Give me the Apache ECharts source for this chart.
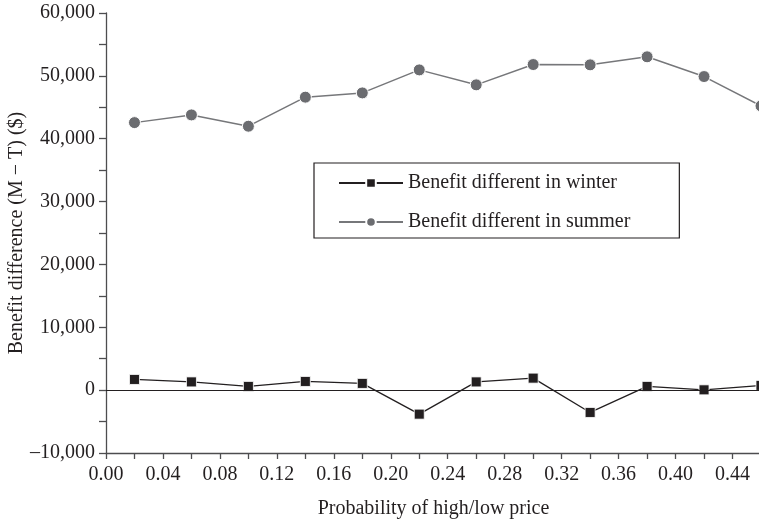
<!DOCTYPE html>
<html>
<head>
<meta charset="utf-8">
<script src="https://cdn.jsdelivr.net/npm/echarts@6/dist/echarts.min.js"></script>
<style>html,body{margin:0;padding:0;background:#fff}#c{width:759px;height:523px}</style>
</head>
<body>
<div id="c"></div>
<script>
var probabilities = [0.02, 0.06, 0.10, 0.14, 0.18, 0.22, 0.26, 0.30, 0.34, 0.38, 0.42, 0.46];
var winterValues = [1700, 1310, 590, 1380, 1070, -3820, 1310, 1910, -3550, 590, 50, 750];
var summerValues = [42560, 43790, 41990, 46610, 47290, 50950, 48570, 51800, 51750, 53030, 49890, 45220];
var seriesNames = ['Benefit different in winter', 'Benefit different in summer'];
var xTitle = 'Probability of high/low price';
var yTitle = 'Benefit difference (M \u2212 T) ($)';

var FONT = 'Liberation Serif';
var TXT = '#231f20';
var AX = '#4d4d4f';

function pairs(xs, ys) { return xs.map(function (x, i) { return [x, ys[i]]; }); }
function fmtY(v) {
  var s = Math.abs(v).toString().replace(/\B(?=(\d{3})+(?!\d))/g, ',');
  return (v < 0 ? '\u2013' : '') + s;
}

var chart = echarts.init(document.getElementById('c'), null, { renderer: 'canvas' });
chart.setOption({
  animation: false,
  backgroundColor: '#fff',
  grid: { left: 106, right: -2, top: 13, bottom: 70, containLabel: false, outerBoundsMode: 'none' },
  legend: {
    orient: 'vertical',
    left: 314,
    top: 163,
    padding: [10, 49, 6, 24],
    borderColor: '#231f20',
    borderWidth: 1.2,
    itemWidth: 64,
    itemHeight: 12,
    itemGap: 19,
    textStyle: { fontFamily: FONT, fontSize: 20, color: TXT },
    data: seriesNames
  },
  xAxis: {
    type: 'value',
    min: 0,
    max: 0.46,
    interval: 0.02,
    name: xTitle,
    nameLocation: 'middle',
    nameGap: 46,
    nameMoveOverlap: false,
    nameTextStyle: { fontFamily: FONT, fontSize: 20, color: TXT },
    axisLine: { show: true, onZero: false, lineStyle: { color: AX, width: 1.3 } },
    axisTick: { show: true, length: 6, lineStyle: { color: AX, width: 1.3 } },
    axisLabel: {
      margin: 12,
      fontFamily: FONT, fontSize: 20, color: TXT,
      formatter: function (v) { return Math.round(v * 100) % 4 === 0 ? v.toFixed(2) : ''; }
    },
    splitLine: { show: false }
  },
  yAxis: {
    type: 'value',
    min: -10000,
    max: 60000,
    interval: 10000,
    name: yTitle,
    nameLocation: 'middle',
    nameGap: 79,
    nameMoveOverlap: false,
    nameTextStyle: { fontFamily: FONT, fontSize: 20, color: TXT },
    axisLine: { show: true, onZero: false, lineStyle: { color: AX, width: 1.3 } },
    axisTick: { show: true, length: 7, lineStyle: { color: AX, width: 1.3 } },
    minorTick: { show: true, splitNumber: 2, length: 7, lineStyle: { color: AX, width: 1.3 } },
    axisLabel: { margin: 11, fontFamily: FONT, fontSize: 20, color: TXT, formatter: fmtY },
    splitLine: { show: false }
  },
  series: [
    {
      name: seriesNames[0],
      type: 'line',
      data: pairs(probabilities, winterValues),
      symbol: 'rect',
      symbolSize: 10,
      showSymbol: true,
      clip: false,
      lineStyle: { color: '#231f20', width: 1.3 },
      itemStyle: { color: '#231f20', borderColor: '#fff', borderWidth: 0.8 },
      markLine: {
        silent: true,
        symbol: 'none',
        label: { show: false },
        lineStyle: { color: '#231f20', width: 1.2, type: 'solid' },
        data: [{ yAxis: 0 }]
      },
      z: 3
    },
    {
      name: seriesNames[1],
      type: 'line',
      data: pairs(probabilities, summerValues),
      symbol: 'circle',
      symbolSize: 12,
      showSymbol: true,
      clip: false,
      lineStyle: { color: '#76777a', width: 1.5 },
      itemStyle: { color: '#6b6c70', borderColor: '#fff', borderWidth: 1 },
      z: 2
    }
  ]
});
</script>
</body>
</html>
